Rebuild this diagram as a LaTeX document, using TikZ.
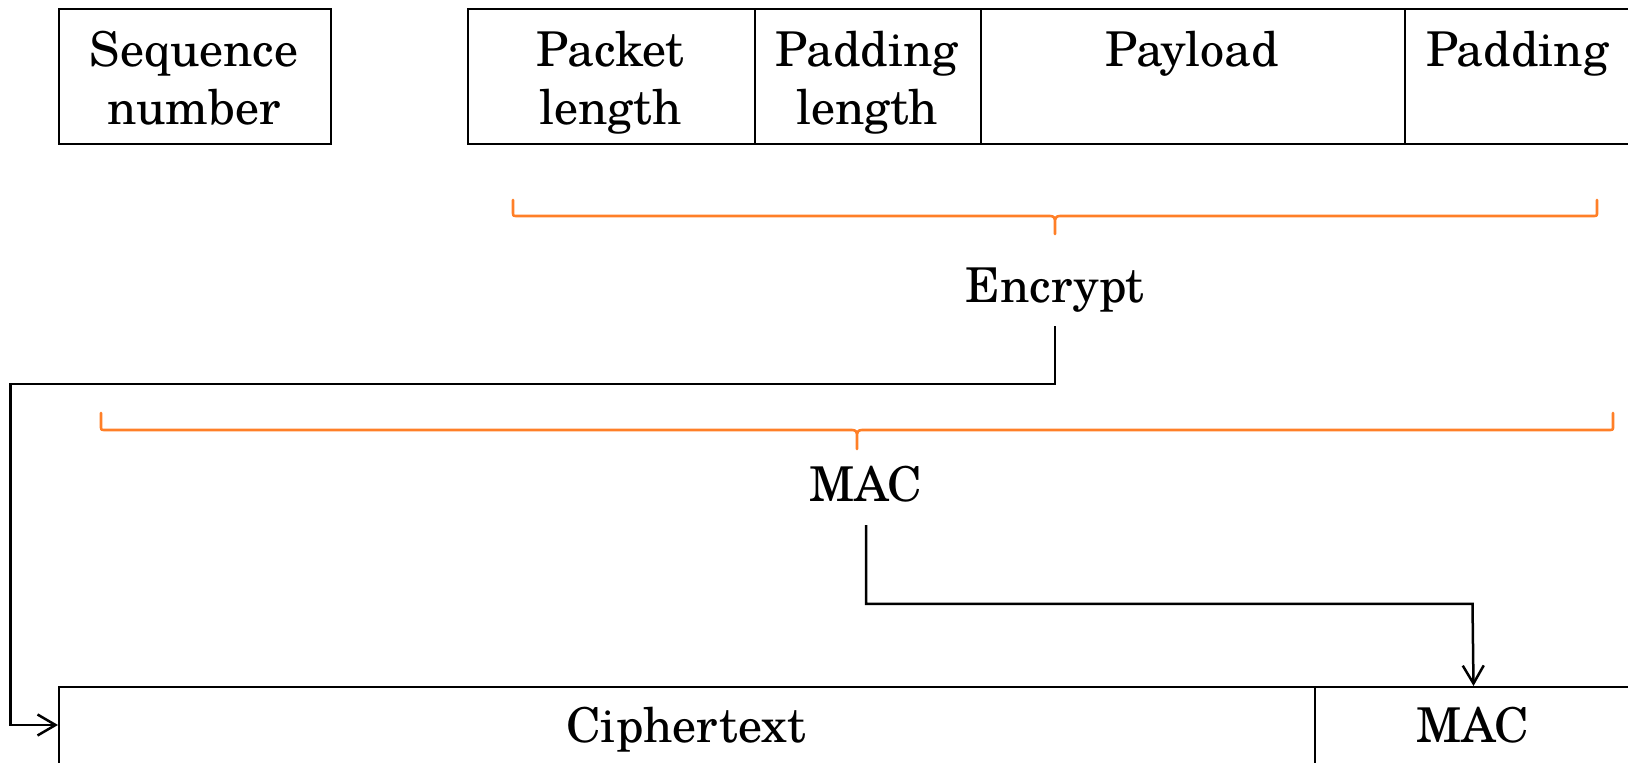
\documentclass[tikz,border=0pt]{standalone}
\usepackage{fontspec}
\setmainfont{TeX Gyre Schola}
\usetikzlibrary{arrows.meta}
\definecolor{braceorange}{RGB}{255,127,39}
\tikzset{
  field/.style={draw=black, line width=1pt, anchor=north west, inner sep=0pt},
  lbl/.style={anchor=north, align=center, inner sep=0pt, font=\fontsize{24}{29}\selectfont},
  word/.style={anchor=base, inner sep=0pt, font=\fontsize{24}{29}\selectfont},
  bracepen/.style={draw=braceorange, line width=1.3pt, line join=round, line cap=round},
  arr/.style={line width=1.25pt, -{Straight Barb[length=9pt, width=10.5pt, line width=1.25pt]}}
}
% left, right, centre, top of the ends, line, tip
\newcommand{\fieldbrace}[6]{%
  \draw[bracepen] (#1,#4) -- (#1,#5-4) .. controls (#1,#5) .. (#1+4,#5)
    -- (#3-5,#5) .. controls (#3-1,#5) and (#3,#5+2) .. (#3,#5+6) -- (#3,#6)
    -- (#3,#5+6) .. controls (#3,#5+2) and (#3+1,#5) .. (#3+5,#5)
    -- (#2-4,#5) .. controls (#2,#5) .. (#2,#5-4) -- (#2,#4);}
\begin{document}
\begin{tikzpicture}[x=0.5pt, y=-0.5pt]
\useasboundingbox (0,0) rectangle (1628,763);
\clip (0,0) rectangle (1628,763);

% packet fields
\node[field, minimum width=136pt, minimum height=67.5pt] (seq) at (58,8) {};
\node[field, minimum width=143.5pt, minimum height=67.5pt] (pktlen) at (467,8) {};
\node[field, minimum width=113pt, minimum height=67.5pt] (padlen) at (754,8) {};
\node[field, minimum width=212pt, minimum height=67.5pt] (payload) at (980,8) {};
\node[field, minimum width=113.5pt, minimum height=67.5pt] (padding) at (1404,8) {};

\node[lbl] (seqtxt) at (194,31) {Sequence\\number};
\node[lbl] (pktlentxt) at (610.5,31) {Packet\\length};
\node[lbl] (padlentxt) at (867,31) {Padding\\length};
\node[lbl] (payloadtxt) at (1192,31) {Payload};
\node[lbl] (paddingtxt) at (1517.5,31) {Padding};

% what each operation covers
\fieldbrace{513}{1597}{1055}{200}{216}{234}
\fieldbrace{101}{1613}{857}{413}{430}{449}

\node[word] (enc) at (1055,303) {Encrypt};
\node[word] (mac) at (866,502) {MAC};

% transmitted packet
\node[field, minimum width=628pt, minimum height=42pt] (cipher) at (58,686) {};
\node[field, minimum width=158.5pt, minimum height=42pt] (macbox) at (1314,686) {};
\node[word] (ciphertxt) at (686,743) {Ciphertext};
\node[word] (macboxtxt) at (1472.5,743) {MAC};

% connectors
\coordinate (e1) at (10.5,384);
\coordinate (e2) at (10.5,725);
\draw[arr, shorten <=6.6pt] (enc.south) |- (e1) -- (e2) -- (e2 -| cipher.west);
\coordinate (m1) at (1472.5,604);
\draw[arr, shorten <=11pt] (mac.south) |- (m1) -- (macbox.north);
\end{tikzpicture}
\end{document}
